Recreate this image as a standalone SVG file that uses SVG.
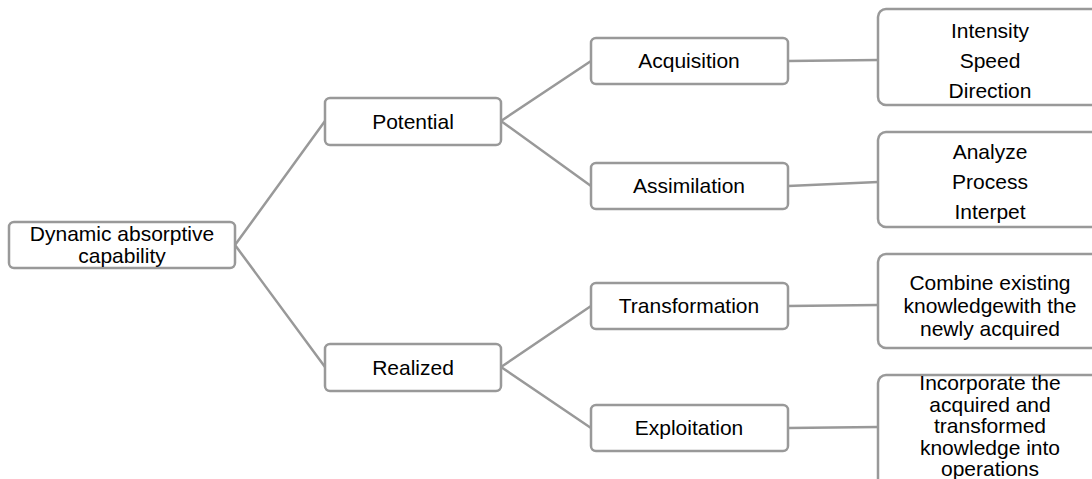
<svg xmlns="http://www.w3.org/2000/svg" width="1092" height="479" viewBox="0 0 1092 479">
<style>
.box{fill:#fff;stroke:#999;stroke-width:2.5}
.lbl{font-family:"Liberation Sans",Arial,sans-serif;font-size:21px;fill:#000;text-anchor:middle}
.con{stroke:#999;stroke-width:2.5;fill:none}
</style>
<rect width="1092" height="479" fill="#fff"/>
<g id="connectors">
<path class="con" d="M235,245 L325,121 M235,245 L325,367 M501,121 L591,61 M501,121 L591,186 M501,367 L591,306 M501,367 L591,428 M788,61 L878,60 M788,186 L878,182 M788,306 L878,305 M788,428 L878,427"/>
</g>
<g id="root"><rect class="box" x="9" y="222" width="226" height="46" rx="5"/>
<text class="lbl" x="122" y="241">Dynamic absorptive</text><text class="lbl" x="122" y="263">capability</text></g>
<g id="potential"><rect class="box" x="325" y="98" width="176" height="47" rx="5"/><text class="lbl" x="413" y="129">Potential</text></g>
<g id="realized"><rect class="box" x="325" y="344" width="176" height="47" rx="5"/><text class="lbl" x="413" y="375">Realized</text></g>
<g id="acquisition"><rect class="box" x="591" y="38" width="197" height="46" rx="5"/><text class="lbl" x="689" y="68">Acquisition</text></g>
<g id="assimilation"><rect class="box" x="591" y="163" width="197" height="46" rx="5"/><text class="lbl" x="689" y="193">Assimilation</text></g>
<g id="transformation"><rect class="box" x="591" y="283" width="197" height="46" rx="5"/><text class="lbl" x="689" y="313">Transformation</text></g>
<g id="exploitation"><rect class="box" x="591" y="405" width="197" height="46" rx="5"/><text class="lbl" x="689" y="435">Exploitation</text></g>
<g id="acq-detail"><rect class="box" x="878" y="9" width="240" height="96" rx="8"/>
<text class="lbl" x="990" y="38">Intensity</text><text class="lbl" x="990" y="68">Speed</text><text class="lbl" x="990" y="98">Direction</text></g>
<g id="ass-detail"><rect class="box" x="878" y="132" width="240" height="95" rx="8"/>
<text class="lbl" x="990" y="159">Analyze</text><text class="lbl" x="990" y="189">Process</text><text class="lbl" x="990" y="219">Interpet</text></g>
<g id="tra-detail"><rect class="box" x="878" y="254" width="240" height="94" rx="8"/>
<text class="lbl" x="990" y="290">Combine existing</text><text class="lbl" x="990" y="313">knowledgewith the</text><text class="lbl" x="990" y="336">newly acquired</text></g>
<g id="exp-detail"><rect class="box" x="878" y="375" width="240" height="120" rx="8"/>
<text class="lbl" x="990" y="390">Incorporate the</text><text class="lbl" x="990" y="412">acquired and</text><text class="lbl" x="990" y="433">transformed</text><text class="lbl" x="990" y="455">knowledge into</text><text class="lbl" x="990" y="476">operations</text></g>
</svg>
